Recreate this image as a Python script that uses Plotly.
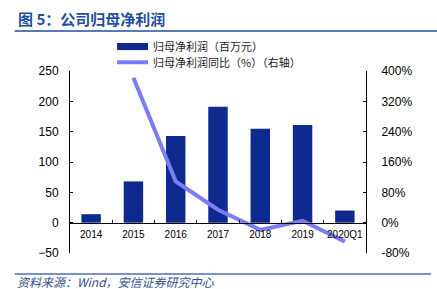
import plotly.graph_objects as go

categories = ["2014", "2015", "2016", "2017", "2018", "2019", "2020Q1"]
profit = [14, 68, 143, 191, 155, 161, 20]
growth_cats = ["2015", "2016", "2017", "2018", "2019", "2020Q1"]
growth = [382, 109, 34, -19, 5, -50]

left_ticks = [-50, 0, 50, 100, 150, 200, 250]
right_ticks = [-80, 0, 80, 160, 240, 320, 400]
right_labels = [f"{v}%" for v in right_ticks]

bar_name = "归母净利润（百万元）"
line_name = "归母净利润同比（%）（右轴）"

BAR = "#0E2A8E"
LINE = "#7C7CF8"
BLUE = "#1F4E9E"
FONT = "Liberation Sans, Arial, sans-serif"
CJK = "Noto Sans CJK SC"

fig = go.Figure()
fig.add_trace(go.Bar(x=categories, y=profit, name=bar_name,
                     marker=dict(color=BAR, line=dict(width=0)), width=0.46,
                     yaxis="y", showlegend=False))
fig.add_trace(go.Scatter(x=growth_cats, y=growth, name=line_name,
                         mode="lines", line=dict(color=LINE, width=4),
                         yaxis="y2", showlegend=False))

fig.update_layout(
    width=437, height=289,
    margin=dict(l=70, r=71, t=71, b=36),
    paper_bgcolor="white", plot_bgcolor="white",
    font=dict(family=FONT, color="#000000", size=12),
    showlegend=False,
    xaxis=dict(type="category", categoryorder="array", categoryarray=categories,
               range=[-0.5, 6.5],
               anchor="free", position=1/6,
               showline=True, linecolor="black", linewidth=1,
               ticks="inside", ticklen=3, tickcolor="black", tickson="boundaries",
               showgrid=False, zeroline=False, tickangle=0,
               tickfont=dict(size=10, family=FONT), ticklabelstandoff=2),
    yaxis=dict(range=[-50, 250], tickvals=left_ticks, domain=[0, 1],
               showline=True, linecolor="black", linewidth=1,
               ticks="inside", ticklen=3, tickcolor="black",
               showgrid=False, zeroline=False,
               tickfont=dict(size=12, family=FONT), ticklabelstandoff=8),
    yaxis2=dict(range=[-80, 400], tickvals=right_ticks, ticktext=right_labels,
                overlaying="y", side="right",
                showline=True, linecolor="black", linewidth=1,
                ticks="inside", ticklen=3, tickcolor="black",
                showgrid=False, zeroline=False,
                tickfont=dict(size=12, family=FONT), ticklabelstandoff=12),
)

# manual legend
fig.add_shape(type="rect", xref="paper", yref="paper", x0=0.159, x1=0.2635,
              y0=1.115, y1=1.154, fillcolor=BAR, line=dict(width=0))
fig.add_shape(type="line", xref="paper", yref="paper", x0=0.159, x1=0.2635,
              y0=1.048, y1=1.048, line=dict(color=LINE, width=4))
fig.add_annotation(text=bar_name, xref="paper", yref="paper", x=0.277, y=1.137,
                   xanchor="left", yanchor="middle", showarrow=False, borderpad=0,
                   font=dict(family=CJK, size=11, color="#222222"))
fig.add_annotation(text=line_name, xref="paper", yref="paper", x=0.277, y=1.048,
                   xanchor="left", yanchor="middle", showarrow=False, borderpad=0,
                   font=dict(family=CJK, size=11, color="#222222"))

# title & decorative lines
fig.add_annotation(text="<b>图 5：公司归母净利润</b>", xref="paper", yref="paper",
                   x=-0.182, y=1.29, xanchor="left", yanchor="middle", showarrow=False,
                   font=dict(family=CJK, size=15, color=BLUE))
fig.add_shape(type="line", xref="paper", yref="paper", x0=-0.187, x1=1.24,
              y0=1.22, y1=1.22, line=dict(color=BLUE, width=1.5))
fig.add_shape(type="line", xref="paper", yref="paper", x0=-0.187, x1=1.22,
              y0=-0.115, y1=-0.115, line=dict(color="#4A6FB5", width=1.5))
fig.add_annotation(text="<i>资料来源：Wind，安信证券研究中心</i>", xref="paper", yref="paper",
                   x=-0.187, y=-0.158, xanchor="left", yanchor="middle", showarrow=False,
                   font=dict(family=CJK, size=12, color="#2F4F8F"))

fig.write_html("out.html")
